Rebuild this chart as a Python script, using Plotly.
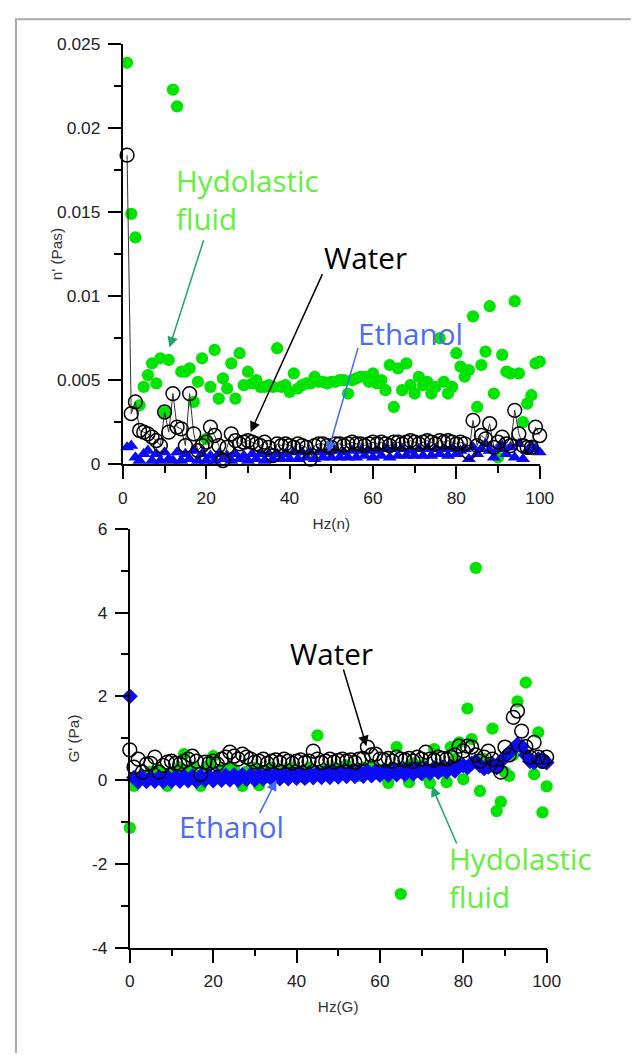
import plotly.graph_objects as go

# ---------------- data ----------------
hz_top = [1, 2, 3, 4, 5, 6, 7, 8, 9, 10, 11, 12, 13, 14, 15, 16, 17, 18, 19, 20,
          21, 22, 23, 24, 25, 26, 27, 28, 29, 30, 31, 32, 33, 34, 35, 36, 37, 38, 39, 40,
          41, 42, 43, 44, 45, 46, 47, 48, 49, 50, 51, 52, 53, 54, 55, 56, 57, 58, 59, 60,
          61, 62, 63, 64, 65, 66, 67, 68, 69, 70, 71, 72, 73, 74, 75, 76, 77, 78, 79, 80,
          81, 82, 83, 84, 85, 86, 87, 88, 89, 90, 91, 92, 93, 94, 95, 96, 97, 98, 99, 100]

visc_hydolastic = [0.0239, 0.0149, 0.0135, 0.0035, 0.0046, 0.0053, 0.0060, 0.0048, 0.0063, 0.0031,
                   0.0062, 0.0223, 0.0213, 0.0055, 0.0055, 0.0057, 0.0037, 0.0049, 0.0063, 0.0015,
                   0.0046, 0.0068, 0.0039, 0.0051, 0.0045, 0.0060, 0.0039, 0.0066, 0.0047, 0.0055,
                   0.0048, 0.0050, 0.0046, 0.0046, 0.0047, 0.0046, 0.0069, 0.0046, 0.0047, 0.0043,
                   0.0054, 0.0045, 0.0047, 0.0048, 0.0048, 0.0052, 0.0049, 0.0049, 0.0048, 0.0049,
                   0.0049, 0.0050, 0.0050, 0.0042, 0.0050, 0.0051, 0.0052, 0.0052, 0.0049, 0.0054,
                   0.0048, 0.0050, 0.0044, 0.0059, 0.0034, 0.0057, 0.0044, 0.0060, 0.0047, 0.0042,
                   0.0052, 0.0047, 0.0049, 0.0042, 0.0046, 0.0075, 0.0049, 0.0042, 0.0046, 0.0066,
                   0.0058, 0.0052, 0.0056, 0.0088, 0.0034, 0.0059, 0.0067, 0.0094, 0.0042, 0.0004,
                   0.0065, 0.0055, 0.0054, 0.0097, 0.0054, 0.0025, 0.0036, 0.0041, 0.0060, 0.0061]

visc_water = [0.0184, 0.0030, 0.0037, 0.0020, 0.0019, 0.0018, 0.0016, 0.0014, 0.0011, 0.0031,
              0.0019, 0.0042, 0.0022, 0.0021, 0.0011, 0.0042, 0.0018, 0.0008, 0.0011, 0.0013,
              0.0022, 0.0017, 0.0011, 0.0002, 0.0010, 0.0018, 0.0014, 0.0012, 0.0013, 0.0014,
              0.0013, 0.0012, 0.0011, 0.0013, 0.0010, 0.0005, 0.0012, 0.0011, 0.0012, 0.0011,
              0.0010, 0.0012, 0.0011, 0.0010, 0.0003, 0.0011, 0.0012, 0.0012, 0.0011, 0.0010,
              0.0012, 0.0012, 0.0011, 0.0012, 0.0013, 0.0012, 0.0012, 0.0011, 0.0012, 0.0013,
              0.0012, 0.0013, 0.0012, 0.0011, 0.0013, 0.0013, 0.0012, 0.0013, 0.0014, 0.0013,
              0.0012, 0.0013, 0.0014, 0.0013, 0.0012, 0.0014, 0.0013, 0.0014, 0.0013, 0.0012,
              0.0013, 0.0012, 0.0007, 0.0026, 0.0011, 0.0017, 0.0015, 0.0024, 0.0010, 0.0013,
              0.0016, 0.0012, 0.0011, 0.0032, 0.0018, 0.0011, 0.0010, 0.0010, 0.0022, 0.0017]

visc_ethanol = [0.0010, 0.0011, 0.0004, 0.0002, 0.0006, 0.0008, 0.0002, 0.0006, 0.0002, 0.0007,
                0.0003, 0.0002, 0.0007, 0.0002, 0.0006, 0.0003, 0.0008, 0.0002, 0.0006, 0.0002,
                0.0005, 0.0002, 0.0006, 0.0003, 0.0005, 0.0002, 0.0006, 0.0003, 0.0005, 0.0002,
                0.0006, 0.0003, 0.0006, 0.0002, 0.0006, 0.0003, 0.0006, 0.0003, 0.0006, 0.0003,
                0.0007, 0.0003, 0.0007, 0.0004, 0.0007, 0.0003, 0.0007, 0.0004, 0.0007, 0.0004,
                0.0008, 0.0004, 0.0007, 0.0004, 0.0008, 0.0004, 0.0008, 0.0005, 0.0008, 0.0004,
                0.0008, 0.0005, 0.0009, 0.0004, 0.0009, 0.0005, 0.0009, 0.0005, 0.0008, 0.0005,
                0.0009, 0.0005, 0.0009, 0.0005, 0.0009, 0.0006, 0.0009, 0.0005, 0.0009, 0.0006,
                0.0008, 0.0009, 0.0003, 0.0010, 0.0006, 0.0009, 0.0012, 0.0008, 0.0004, 0.0009,
                0.0011, 0.0006, 0.0010, 0.0004, 0.0012, 0.0003, 0.0008, 0.0011, 0.0009, 0.0007]

hz_bottom = [0, 1, 2, 3, 4, 5, 6, 7, 8, 9, 10, 11, 12, 13, 14, 15, 16, 17, 18, 19, 20,
             21, 22, 23, 24, 25, 26, 27, 28, 29, 30, 31, 32, 33, 34, 35, 36, 37, 38, 39, 40,
             41, 42, 43, 44, 45, 46, 47, 48, 49, 50, 51, 52, 53, 54, 55, 56, 57, 58, 59, 60,
             61, 62, 63, 64, 65, 66, 67, 68, 69, 70, 71, 72, 73, 74, 75, 76, 77, 78, 79, 80,
             81, 82, 83, 84, 85, 86, 87, 88, 89, 90, 91, 92, 93, 94, 95, 96, 97, 98, 99, 100]

g_hydolastic = [-1.14, -0.14, 0.05, 0.10, 0.00, 0.20, 0.10, 0.24, 0.05, -0.14, 0.10,
                0.20, 0.30, 0.62, 0.15, 0.30, 0.10, -0.14, 0.20, 0.35, 0.57,
                0.10, 0.25, 0.15, 0.30, 0.26, 0.10, -0.14, 0.20, 0.10, 0.30,
                -0.12, 0.20, 0.10, 0.30, 0.15, 0.05, 0.25, 0.10, 0.30, 0.20,
                0.15, 0.05, 0.30, 0.20, 1.07, 0.10, 0.25, 0.15, 0.30, 0.10,
                0.20, 0.35, 0.15, 0.25, 0.10, 0.30, 0.20, 0.35, 0.15, 0.25,
                0.10, -0.07, 0.30, 0.79, -2.72, 0.30, -0.05, 0.40, 0.20, 0.35,
                0.10, -0.07, 0.74, 0.30, 0.20, -0.05, 0.79, 0.50, 0.90, 0.02,
                1.71, 0.98, 5.07, -0.26, 0.50, 0.30, 1.23, -0.74, -0.52, 0.19,
                0.10, 0.60, 1.88, 0.80, 2.33, 0.50, 0.14, 1.14, -0.77, -0.15]

g_water = [0.72, 0.31, 0.50, 0.19, 0.38, 0.40, 0.55, 0.19, 0.35, 0.43, 0.45,
           0.40, 0.38, 0.45, 0.50, 0.57, 0.45, 0.14, 0.43, 0.40, 0.45,
           0.38, 0.50, 0.55, 0.67, 0.57, 0.50, 0.62, 0.55, 0.50, 0.43,
           0.45, 0.50, 0.40, 0.45, 0.48, 0.42, 0.50, 0.45, 0.40, 0.45,
           0.48, 0.42, 0.45, 0.69, 0.50, 0.42, 0.45, 0.50, 0.43, 0.47,
           0.50, 0.45, 0.48, 0.42, 0.50, 0.52, 0.79, 0.60, 0.62, 0.50,
           0.48, 0.52, 0.45, 0.55, 0.50, 0.48, 0.52, 0.45, 0.55, 0.50,
           0.67, 0.50, 0.48, 0.55, 0.52, 0.50, 0.55, 0.60, 0.81, 0.70,
           0.81, 0.79, 0.60, 0.45, 0.55, 0.69, 0.50, 0.33, 0.19, 0.79,
           0.60, 1.50, 1.65, 1.17, 0.80, 0.55, 0.90, 0.55, 0.45, 0.55]

g_ethanol = [2.00, 0.06, -0.04, 0.07, -0.03, 0.06, -0.02, 0.07, -0.03, 0.08, -0.02,
             0.08, -0.02, 0.09, -0.01, 0.09, -0.02, 0.10, 0.00, 0.10, -0.01,
             0.11, 0.00, 0.11, 0.01, 0.12, 0.00, 0.12, 0.02, 0.13, 0.01,
             0.13, 0.03, 0.14, 0.03, 0.14, 0.04, 0.15, 0.04, 0.15, 0.05,
             0.16, 0.05, 0.17, 0.06, 0.17, 0.07, 0.18, 0.07, 0.19, 0.08,
             0.19, 0.09, 0.20, 0.09, 0.21, 0.10, 0.21, 0.11, 0.22, 0.12,
             0.23, 0.12, 0.24, 0.13, 0.25, 0.14, 0.26, 0.15, 0.27, 0.16,
             0.28, 0.17, 0.29, 0.19, 0.30, 0.20, 0.32, 0.22, 0.34, 0.35,
             0.30, 0.40, 0.45, 0.35, 0.28, 0.32, 0.38, 0.30, 0.45, 0.55,
             0.65, 0.75, 0.85, 0.80, 0.60, 0.45, 0.42, 0.50, 0.45, 0.42]

top_yticks = [0, 0.005, 0.01, 0.015, 0.02, 0.025]
top_yticklabels = ["0", "0.005", "0.01", "0.015", "0.02", "0.025"]
bottom_yticks = [-4, -2, 0, 2, 4, 6]
bottom_yticklabels = ["-4", "-2", "0", "2", "4", "6"]
xticks = [0, 20, 40, 60, 80, 100]

# ---------------- page geometry ----------------
W, H = 639, 1055
# the photographed page is shown slightly reduced and offset; positions below are
# given as wanted on the final picture and converted back to page pixels here
OX, OY, SX, SY = 10.0, 16.6, 0.98, 0.984


def X(t):
    return ((t - OX) / SX) / W


def Y(t):
    return 1 - ((t - OY) / SY) / H


def S(v):
    return v / SX


GREEN = "#00e400"
BLUE = "#0a0af5"
TXT_GREEN = "#62f03c"
TXT_BLUE = "#4a6cf7"
ARR_GREEN = "#1fa866"
ARR_BLUE = "#3d6bff"
TICKFONT = dict(family="Liberation Sans, Arial, sans-serif", size=S(17), color="#222")
TITLEFONT = dict(family="Liberation Sans, Arial, sans-serif", size=S(15), color="#333")
LABELFONT = "Open Sans, sans-serif"

fig = go.Figure()

# top panel
fig.add_trace(go.Scatter(x=hz_top, y=visc_hydolastic, mode="markers", name="Hydolastic fluid",
                         marker=dict(color=GREEN, size=S(12)), cliponaxis=False,
                         xaxis="x", yaxis="y"))
fig.add_trace(go.Scatter(x=hz_top, y=visc_ethanol, mode="markers", name="Ethanol",
                         marker=dict(color=BLUE, size=S(12), symbol="triangle-up"),
                         cliponaxis=False, xaxis="x", yaxis="y"))
fig.add_trace(go.Scatter(x=hz_top, y=visc_water, mode="lines+markers", name="Water",
                         line=dict(color="#333", width=1),
                         marker=dict(color="black", size=S(13.5), symbol="circle-open",
                                     line=dict(color="black", width=1.5)),
                         cliponaxis=False, xaxis="x", yaxis="y"))

# bottom panel
fig.add_trace(go.Scatter(x=hz_bottom, y=g_hydolastic, mode="markers", name="Hydolastic fluid",
                         marker=dict(color=GREEN, size=S(12)), cliponaxis=False,
                         xaxis="x2", yaxis="y2"))
fig.add_trace(go.Scatter(x=hz_bottom, y=g_ethanol, mode="markers", name="Ethanol",
                         marker=dict(color=BLUE, size=S(12), symbol="diamond"), cliponaxis=False,
                         xaxis="x2", yaxis="y2"))
fig.add_trace(go.Scatter(x=hz_bottom, y=g_water, mode="markers", name="Water",
                         marker=dict(color="black", size=S(13.5), symbol="circle-open",
                                     line=dict(color="black", width=1.5)),
                         cliponaxis=False, xaxis="x2", yaxis="y2"))

axis_common = dict(showline=True, linecolor="black", linewidth=1.5, ticks="outside",
                   ticklen=S(13), tickwidth=1.5, tickcolor="black", showgrid=False,
                   zeroline=False, tickfont=TICKFONT, ticklabelstandoff=4)
minor_common = dict(ticks="outside", ticklen=S(7), tickwidth=1.5, tickcolor="black",
                    tick0=0, showgrid=False)

fig.update_layout(
    width=W, height=H, autosize=False, showlegend=False,
    margin=dict(l=0, r=0, t=0, b=0),
    paper_bgcolor="white", plot_bgcolor="white",
    xaxis=dict(domain=[X(121), X(542)], anchor="y", range=[0, 100], tickvals=xticks,
               minor=dict(dtick=10, **minor_common),
               title=dict(text="Hz(n)", font=TITLEFONT, standoff=11),
               **axis_common),
    yaxis=dict(domain=[Y(464), Y(43)], anchor="x", range=[0, 0.025],
               tickvals=top_yticks, ticktext=top_yticklabels,
               minor=dict(dtick=0.0025, **minor_common),
               **axis_common),
    xaxis2=dict(domain=[X(128), X(549)], anchor="y2", range=[0, 100], tickvals=xticks,
                minor=dict(dtick=10, **minor_common),
                title=dict(text="Hz(G)", font=TITLEFONT, standoff=11),
                **axis_common),
    yaxis2=dict(domain=[Y(949), Y(529)], anchor="x2", range=[-4, 6],
                tickvals=bottom_yticks, ticktext=bottom_yticklabels,
                minor=dict(dtick=1, **minor_common),
                **axis_common),
)

# outer frame (left and top edges only; the rest runs off the picture)
top_edge = 1 - 1.2 / H
fig.add_shape(type="path", xref="paper", yref="paper",
              path=f"M {X(13)},0 L {X(13)},{top_edge} L 1,{top_edge}",
              line=dict(color="#aaaaaa", width=2))

ann = []
# y-axis titles
ann.append(dict(text="n' (Pas)", x=X(54), y=Y(254), xref="paper", yref="paper",
                textangle=-90, showarrow=False, font=TITLEFONT,
                xanchor="center", yanchor="middle"))
ann.append(dict(text="G' (Pa)", x=X(71), y=Y(739), xref="paper", yref="paper",
                textangle=-90, showarrow=False, font=TITLEFONT,
                xanchor="center", yanchor="middle"))


# series labels
def label(text, x, y, color, xanchor="center", align="center"):
    return dict(text=text, x=X(x), y=Y(y), xref="paper", yref="paper", showarrow=False,
                font=dict(family=LABELFONT, size=S(29), color=color),
                xanchor=xanchor, yanchor="middle", align=align)


ann.append(label("Hydolastic<br>fluid", 173, 199, TXT_GREEN, "left", "left"))
ann.append(label("Water", 366, 257, "black"))
ann.append(label("Ethanol", 411, 333, TXT_BLUE))
ann.append(label("Water", 332, 654, "black"))
ann.append(label("Ethanol", 231, 828, TXT_BLUE))
ann.append(label("Hydolastic<br>fluid", 448, 879, TXT_GREEN, "left", "left"))


# arrows (tip, tail) on the final picture
def arrow(tip, tail, color):
    return dict(text="", x=X(tip[0]), y=Y(tip[1]), xref="paper", yref="paper",
                showarrow=True, ax=(tail[0] - tip[0]) / SX, ay=(tail[1] - tip[1]) / SY,
                arrowhead=2, arrowsize=1.4, arrowwidth=1.5, arrowcolor=color)


ann.append(arrow((168, 347), (202, 240), ARR_GREEN))
ann.append(arrow((250, 432), (321, 275), "black"))
ann.append(arrow((328, 452), (358, 348), ARR_BLUE))
ann.append(arrow((367, 747), (344, 670), "black"))
ann.append(arrow((276, 781), (259, 815), ARR_BLUE))
ann.append(arrow((433, 787), (458, 845), ARR_GREEN))

fig.update_layout(annotations=ann)

fig.write_html("out.html", config={"displayModeBar": False})
